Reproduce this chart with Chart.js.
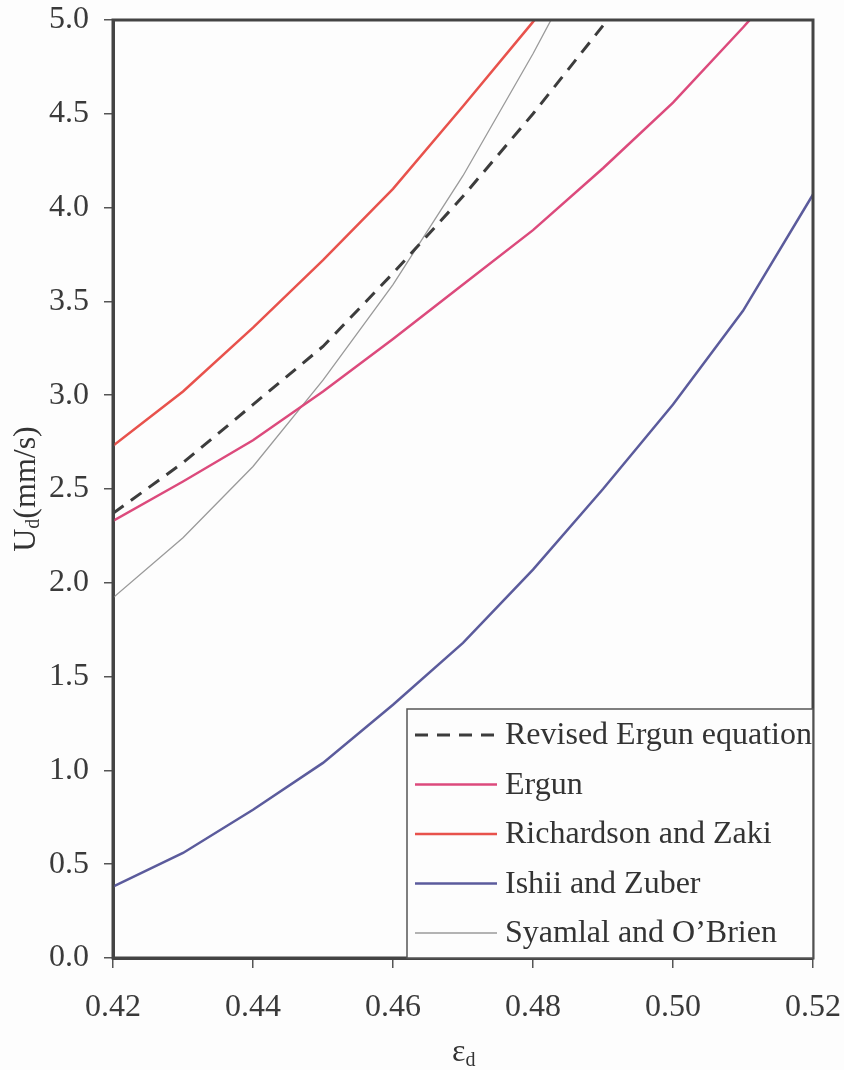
<!DOCTYPE html>
<html>
<head>
<meta charset="utf-8">
<script src="https://cdn.jsdelivr.net/npm/chart.js@4.4.1/dist/chart.umd.min.js"></script>
<style>
  html, body { margin: 0; padding: 0; background: #fdfdfd; }
  #wrap { width: 844px; height: 1070px; }
</style>
</head>
<body>
<div id="wrap"><canvas id="graf"></canvas></div>
<script>
// voidage (x) and settling velocity in mm/s (y)
let eps = [0.42, 0.43, 0.44, 0.45, 0.46, 0.47, 0.48, 0.49, 0.50, 0.51, 0.52];

let revisedErgun = [2.37, 2.64, 2.95, 3.26, 3.65, 4.06, 4.50, 4.97];
let ergun = [2.33, 2.54, 2.76, 3.02, 3.30, 3.59, 3.88, 4.21, 4.56, 4.96, 5.38];
let richardsonZaki = [2.73, 3.02, 3.36, 3.72, 4.10, 4.54, 4.99, 5.48];
let ishiiZuber = [0.38, 0.56, 0.79, 1.04, 1.35, 1.68, 2.07, 2.50, 2.95, 3.45, 4.07];
let syamlal = [1.92, 2.24, 2.62, 3.08, 3.59, 4.17, 4.82, 5.52];

let xTicks = [0.42, 0.44, 0.46, 0.48, 0.50, 0.52];
let yTicks = [0, 0.5, 1.0, 1.5, 2.0, 2.5, 3.0, 3.5, 4.0, 4.5, 5.0];

const PISAVA = "'Liberation Serif', 'Times New Roman', serif";

function tocke(vrednosti) {
	return vrednosti.map((v, i) => ({ x: eps[i], y: v }));
}

// frame, axis titles and the boxed legend
const okvir = {
	id: "okvir",
	afterDatasetsDraw(chart) {
		const ctx = chart.ctx;
		const a = chart.chartArea;
		ctx.save();
		ctx.strokeStyle = "#444";
		ctx.lineWidth = 3;
		ctx.strokeRect(a.left, a.top, a.right - a.left, a.bottom - a.top);

		// legend
		const lx = a.right - 406, ly = a.bottom - 249;
		ctx.fillStyle = "#fdfdfd";
		ctx.fillRect(lx, ly, a.right - lx, a.bottom - ly);
		ctx.lineWidth = 1.5;
		ctx.strokeStyle = "#555";
		ctx.strokeRect(lx, ly, a.right - lx, a.bottom - ly);
		ctx.font = "32px " + PISAVA;
		ctx.textBaseline = "middle";
		chart.data.datasets.forEach((ds, i) => {
			const y = ly + 26 + i * 49.5;
			ctx.beginPath();
			ctx.strokeStyle = ds.borderColor;
			ctx.lineWidth = ds.borderWidth;
			ctx.setLineDash(ds.borderDash || []);
			ctx.moveTo(lx + 8, y);
			ctx.lineTo(lx + 90, y);
			ctx.stroke();
			ctx.setLineDash([]);
			ctx.fillStyle = "#333";
			ctx.fillText(ds.label, lx + 98, y + 1);
		});

		// y title U_d(mm/s)
		ctx.save();
		ctx.translate(27, (a.top + a.bottom) / 2);
		ctx.rotate(-Math.PI / 2);
		ctx.fillStyle = "#333";
		ctx.font = "32px " + PISAVA;
		const wU = ctx.measureText("U").width;
		ctx.font = "20px " + PISAVA;
		const wd = ctx.measureText("d").width;
		ctx.font = "32px " + PISAVA;
		const wR = ctx.measureText("(mm/s)").width;
		let x = -(wU + wd + wR) / 2;
		ctx.textBaseline = "middle";
		ctx.fillText("U", x, 0);
		ctx.font = "20px " + PISAVA;
		ctx.fillText("d", x + wU, 7);
		ctx.font = "32px " + PISAVA;
		ctx.fillText("(mm/s)", x + wU + wd, 0);
		ctx.restore();

		// x title epsilon_d
		ctx.fillStyle = "#333";
		ctx.textBaseline = "middle";
		ctx.font = "32px " + PISAVA;
		const we = ctx.measureText("ε").width;
		ctx.fillText("ε", 452, 1053);
		ctx.font = "20px " + PISAVA;
		ctx.fillText("d", 452 + we, 1061);
		ctx.restore();
	}
};

let graf = new Chart("graf", {
	type: "line",
	data: {
		datasets: [
			{ label: "Revised Ergun equation", data: tocke(revisedErgun), borderColor: "#3c3c3c", borderWidth: 3, borderDash: [13, 9] },
			{ label: "Ergun", data: tocke(ergun), borderColor: "#dc4a7c", borderWidth: 2.5 },
			{ label: "Richardson and Zaki", data: tocke(richardsonZaki), borderColor: "#e8524c", borderWidth: 2.5 },
			{ label: "Ishii and Zuber", data: tocke(ishiiZuber), borderColor: "#5b5b9c", borderWidth: 2.5 },
			{ label: "Syamlal and O\u2019Brien", data: tocke(syamlal), borderColor: "#9a9a9a", borderWidth: 1.3 }
		]
	},
	options: {
		responsive: true,
		maintainAspectRatio: false,
		animation: false,
		elements: { point: { radius: 0 }, line: { tension: 0, fill: false } },
		layout: { padding: { top: 20, right: 31, left: 0, bottom: 0 } },
		plugins: { legend: { display: false }, tooltip: { enabled: false } },
		scales: {
			x: {
				type: "linear",
				min: 0.42,
				max: 0.52,
				afterFit(s) { s.height = 112; s.paddingLeft = 0; s.paddingRight = 0; },
				afterBuildTicks(s) { s.ticks = xTicks.map(v => ({ value: v })); },
				grid: { drawOnChartArea: false, drawTicks: true, tickLength: 10, color: "#555", lineWidth: 1.5 },
				border: { display: true, color: "#444", width: 3 },
				ticks: {
					autoSkip: false,
					maxRotation: 0,
					padding: 20,
					color: "#3a3a3a",
					font: { family: PISAVA, size: 32 },
					callback: v => v.toFixed(2)
				}
			},
			y: {
				min: 0,
				max: 5,
				afterFit(s) { s.width = 113; s.paddingTop = 0; s.paddingBottom = 0; },
				afterBuildTicks(s) { s.ticks = yTicks.map(v => ({ value: v })); },
				grid: { drawOnChartArea: false, drawTicks: true, tickLength: 9, color: "#555", lineWidth: 1.5 },
				border: { display: true, color: "#444", width: 3 },
				ticks: {
					padding: 15,
					color: "#3a3a3a",
					font: { family: PISAVA, size: 32 },
					callback: v => v.toFixed(1)
				}
			}
		}
	},
	plugins: [okvir]
});
</script>
</body>
</html>
